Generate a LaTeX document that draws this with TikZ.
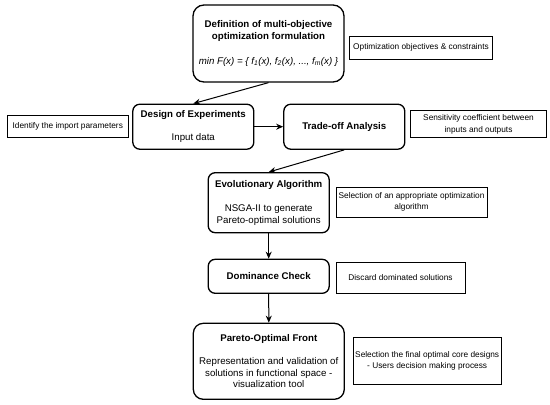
\documentclass[tikz,border=0pt]{standalone}
\usepackage{fontspec}
\setmainfont{Liberation Sans}
\usetikzlibrary{arrows.meta}
\begin{document}
\begin{tikzpicture}[x=1pt,y=-1pt,
  proc/.style={draw, line width=1.3pt, rounded corners=7pt, align=center, inner sep=0pt, font=\fontsize{9.7}{11.7}\selectfont},
  bigproc/.style={proc, rounded corners=11pt},
  note/.style={draw, line width=0.9pt, align=center, inner sep=0pt, font=\fontsize{8.3}{11.7}\selectfont},
  arr/.style={line width=1pt, -{Stealth[length=7pt,width=6pt]}}]
\useasboundingbox (0,0) rectangle (550,405);
% process boxes
\node[bigproc, minimum width=151pt, minimum height=77pt] (def) at (268.5,43.5)
  {\textbf{Definition of multi-objective}\\\textbf{optimization formulation}\\[13pt]
   \textit{min F(x) = \{ f\textsubscript{1}(x), f\textsubscript{2}(x), ..., f\textsubscript{m}(x) \}}};
\node[proc, minimum width=121pt, minimum height=45pt] (doe) at (193.3,126.7)
  {\textbf{Design of Experiments}\\[11.6pt]Input data};
\node[proc, minimum width=121pt, minimum height=45pt] (trade) at (344.3,126.7)
  {\textbf{Trade-off Analysis}};
\node[proc, minimum width=121pt, minimum height=60pt] (ea) at (268.7,202.7)
  {\textbf{Evolutionary Algorithm}\\[12.3pt]NSGA-II to generate\\Pareto-optimal solutions};
\node[proc, minimum width=121pt, minimum height=34pt] (dc) at (268.7,276.3)
  {\textbf{Dominance Check}};
\node[bigproc, rounded corners=10pt, minimum width=151pt, minimum height=76pt] (pof) at (268.8,361.3)
  {\textbf{Pareto-Optimal Front}\\[11pt]Representation and validation of\\solutions in functional space -\\visualization tool};
% notes
\node[note, minimum width=143.5pt, minimum height=23pt] (n1) at (421,47.7)
  {Optimization objectives \& constraints};
\node[note, minimum width=121pt, minimum height=22pt] (n2) at (67.8,126.7)
  {Identify the import parameters};
\node[note, minimum width=136pt, minimum height=27pt] (n3) at (478.5,124.4)
  {Sensitivity coefficient between\\inputs and outputs};
\node[note, minimum width=151pt, minimum height=30pt] (n4) at (411.5,202)
  {Selection of an appropriate optimization\\algorithm};
\node[note, minimum width=129pt, minimum height=30.3pt] (n5) at (400.5,277.8)
  {Discard dominated solutions};
\node[note, minimum width=147.7pt, minimum height=46.7pt] (n6) at (427.2,360.7)
  {Selection the final optimal core designs\\- Users decision making process};
% connectors
\draw[arr] (def.south) -- (doe.north);
\draw[arr] (doe.east) -- (trade.west);
\draw[arr] (trade.south) -- (ea.north);
\draw[arr] (ea.south) -- (dc.north);
\draw[arr] (dc.south) -- (pof.north);
\end{tikzpicture}
\end{document}
